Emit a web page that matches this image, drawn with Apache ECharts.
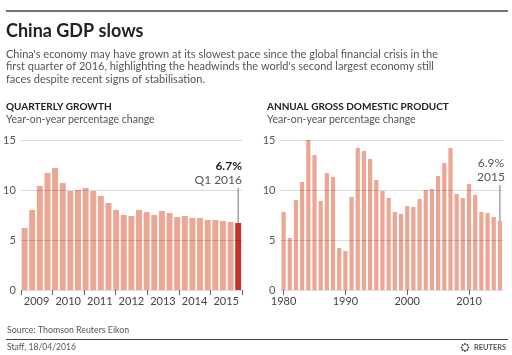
<!DOCTYPE html>
<html><head><meta charset="utf-8">
<script src="https://cdn.jsdelivr.net/npm/echarts@6/dist/echarts.min.js"></script>
<style>html,body{margin:0;padding:0;background:#fff}#c{width:512px;height:355px}</style>
</head><body><div id="c"></div>
<script>
// ---- data ----
const quarterLabels = [
  'Q1 2009','Q2 2009','Q3 2009','Q4 2009',
  'Q1 2010','Q2 2010','Q3 2010','Q4 2010',
  'Q1 2011','Q2 2011','Q3 2011','Q4 2011',
  'Q1 2012','Q2 2012','Q3 2012','Q4 2012',
  'Q1 2013','Q2 2013','Q3 2013','Q4 2013',
  'Q1 2014','Q2 2014','Q3 2014','Q4 2014',
  'Q1 2015','Q2 2015','Q3 2015','Q4 2015',
  'Q1 2016'
];
const quarterlyGrowth = [
  6.2, 8.0, 10.4, 11.7,
  12.2, 10.7, 9.9, 10.0,
  10.2, 9.9, 9.4, 8.7,
  8.0, 7.5, 7.4, 8.0,
  7.8, 7.5, 7.9, 7.7,
  7.3, 7.4, 7.2, 7.2,
  7.0, 7.0, 6.9, 6.8,
  6.7
];
const quarterYearLabels = ['2009','2010','2011','2012','2013','2014','2015'];
const annualYears = [
  '1980','1981','1982','1983','1984','1985','1986','1987','1988','1989',
  '1990','1991','1992','1993','1994','1995','1996','1997','1998','1999',
  '2000','2001','2002','2003','2004','2005','2006','2007','2008','2009',
  '2010','2011','2012','2013','2014','2015'
];
const annualGrowth = [
  7.8, 5.2, 9.0, 10.8, 15.2, 13.5, 8.9, 11.7, 11.3, 4.2,
  3.9, 9.3, 14.2, 13.9, 13.1, 11.0, 9.9, 9.2, 7.8, 7.6,
  8.4, 8.3, 9.1, 10.0, 10.1, 11.4, 12.7, 14.2, 9.6, 9.2,
  10.6, 9.5, 7.8, 7.7, 7.3, 6.9
];
const annualTickLabels = ['1980','1990','2000','2010'];
const yAxisMin = 0, yAxisMax = 15, yAxisStep = 5;

// ---- styles ----
const FONT = "Lato, 'Noto Sans', sans-serif";
const BAR = '#eba694';
const HIGHLIGHT = '#c7302c';
const TXT = '#444';

const chart = echarts.init(document.getElementById('c'), null, {renderer: 'canvas'});

function yAxis(grid) {
  return {
    type: 'value', gridIndex: grid, min: yAxisMin, max: yAxisMax, interval: yAxisStep, z: 5,
    axisLine: {show: false}, axisTick: {show: false},
    axisLabel: {color: '#555', fontFamily: FONT, fontSize: 11, margin: 5},
    splitLine: {lineStyle: {color: 'rgba(0,0,0,0.14)', width: 1}}
  };
}

const option = {
  animation: false,
  backgroundColor: '#fff',
  grid: [
    {left: 20, right: 270, top: 140, height: 150},
    {left: 280.5, right: 9, top: 140, height: 150}
  ],
  xAxis: [
    {type: 'category', gridIndex: 0, data: quarterLabels, boundaryGap: true,
     axisLine: {show: false}, axisTick: {show: false}, axisLabel: {show: false}},
    {type: 'category', gridIndex: 0, data: quarterYearLabels, boundaryGap: true, position: 'bottom',
     axisLine: {show: false},
     axisTick: {show: true, length: 5, interval: 0, lineStyle: {color: '#666'}},
     axisLabel: {color: TXT, fontFamily: FONT, fontSize: 11, margin: 6, interval: 0}},
    {type: 'category', gridIndex: 1, data: annualYears, boundaryGap: true,
     axisLine: {show: false},
     axisTick: {show: true, length: 5, alignWithLabel: true, lineStyle: {color: '#666'},
       interval: (i, v) => annualTickLabels.indexOf(v) >= 0},
     axisLabel: {color: TXT, fontFamily: FONT, fontSize: 11, margin: 6,
       interval: (i, v) => annualTickLabels.indexOf(v) >= 0}}
  ],
  yAxis: [yAxis(0), yAxis(1)],
  series: [
    {type: 'bar', xAxisIndex: 0, yAxisIndex: 0, barCategoryGap: '22%',
     data: quarterlyGrowth.map((v, i) => ({value: v,
       itemStyle: {color: i === quarterlyGrowth.length - 1 ? HIGHLIGHT : BAR}}))},
    {type: 'bar', xAxisIndex: 2, yAxisIndex: 1, barCategoryGap: '32%',
     itemStyle: {color: BAR}, data: annualGrowth}
  ]
};
chart.setOption(option);

// ---- annotations and page text ----
const lastQ = quarterlyGrowth.length - 1;
const lastA = annualGrowth.length - 1;
const pQ = chart.convertToPixel({seriesIndex: 0}, [lastQ, quarterlyGrowth[lastQ]]);
const pA = chart.convertToPixel({seriesIndex: 1}, [lastA, annualGrowth[lastA]]);

function txt(text, x, y, size, weight, color, align) {
  return {type: 'text', z: 100, style: {text: text, x: x, y: y, fontFamily: FONT, fontSize: size,
    fontWeight: weight || 'normal', fill: color || TXT, textAlign: align || 'left', textVerticalAlign: 'middle'}};
}
function line(x1, y1, x2, y2, color, w) {
  return {type: 'line', z: 100, shape: {x1: x1, y1: y1, x2: x2, y2: y2}, style: {stroke: color, lineWidth: w}};
}

const reutersDots = [];
for (let k = 0; k < 8; k++) {
  const a = k * Math.PI / 4;
  reutersDots.push({type: 'circle', z: 100, shape: {cx: 465 + 3.4 * Math.cos(a), cy: 347.5 + 3.4 * Math.sin(a), r: 1.05}, style: {fill: '#555'}});
}

chart.setOption({
  graphic: [
    line(6, 11, 508, 11, '#444', 1.5),
    txt('China GDP slows', 6, 31, 18, 'bold', '#222'),
    txt("China's economy may have grown at its slowest pace since the global financial crisis in the", 6, 54, 11, 'normal', '#555'),
    txt("first quarter of 2016, highlighting the headwinds the world's second largest economy still", 6, 66.7, 11, 'normal', '#555'),
    txt('faces despite recent signs of stabilisation.', 6, 79.3, 11, 'normal', '#555'),
    txt('QUARTERLY GROWTH', 6, 107, 10, 'bold', '#222'),
    txt('Year-on-year percentage change', 6, 119.5, 10.5, 'normal', '#555'),
    txt('ANNUAL GROSS DOMESTIC PRODUCT', 267, 107, 10, 'bold', '#222'),
    txt('Year-on-year percentage change', 267, 119.5, 10.5, 'normal', '#555'),
    txt('6.7%', 242, 166, 12, 'bold', '#222', 'right'),
    txt('Q1 2016', 242, 180, 12, 'normal', '#555', 'right'),
    line(pQ[0], 188, pQ[0], pQ[1], '#777', 1),
    txt('6.9%', 491, 163, 12, 'normal', '#555', 'center'),
    txt('2015', 491, 177, 12, 'normal', '#555', 'center'),
    line(pA[0], 185, pA[0], pA[1], '#777', 1),
    txt('Source: Thomson Reuters Eikon', 7, 330.5, 8.8, 'normal', '#555'),
    line(6, 339.5, 508, 339.5, '#444', 1.2),
    txt('Staff, 18/04/2016', 7, 347.5, 8.6, 'normal', '#555'),
    txt('REUTERS', 506, 347.5, 7.4, 'bold', '#555', 'right')
  ].concat(reutersDots)
});
</script>
</body></html>
